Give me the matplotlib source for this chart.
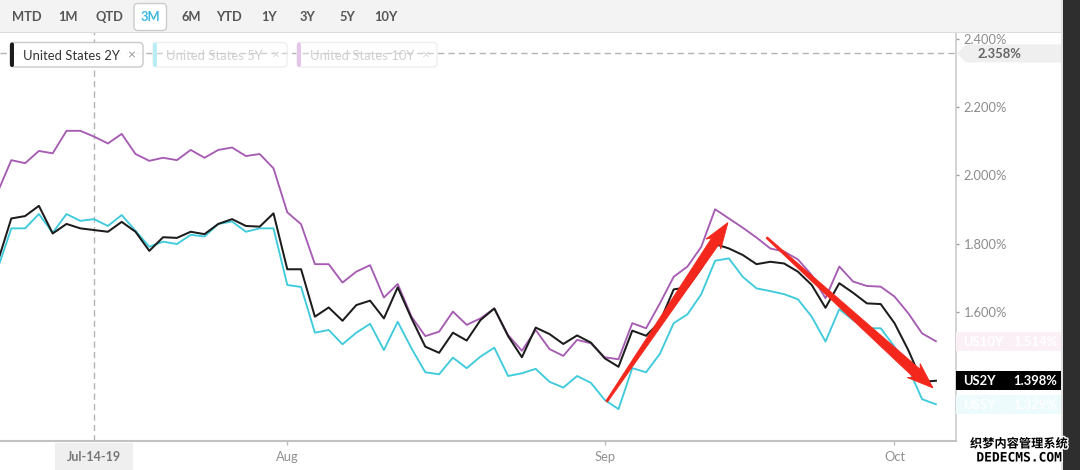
import matplotlib
matplotlib.use("Agg")
import matplotlib.pyplot as plt
import matplotlib.patheffects as pe
from matplotlib.patches import Rectangle, FancyBboxPatch, Polygon
from matplotlib.transforms import Affine2D, IdentityTransform
import numpy as np

plt.rcParams['font.family'] = ['Lato', 'DejaVu Sans']

# ---------------- data ----------------
us2y = [1.745, 1.874, 1.881, 1.911, 1.830, 1.858, 1.845, 1.840, 1.835, 1.864,
        1.835, 1.779, 1.819, 1.817, 1.835, 1.828, 1.858, 1.872, 1.852, 1.850,
        1.889, 1.725, 1.725, 1.586, 1.613, 1.574, 1.620, 1.633, 1.581, 1.672,
        1.581, 1.498, 1.480, 1.539, 1.516, 1.576, 1.610, 1.529, 1.467, 1.554,
        1.535, 1.506, 1.531, 1.510, 1.464, 1.439, 1.545, 1.530, 1.571, 1.666,
        1.672, 1.728, 1.799, 1.786, 1.767, 1.740, 1.747, 1.742, 1.718, 1.679,
        1.612, 1.684, 1.656, 1.625, 1.623, 1.567, 1.488, 1.395, 1.398]
us5y = [1.725, 1.845, 1.845, 1.887, 1.832, 1.887, 1.867, 1.872, 1.852, 1.884,
        1.838, 1.791, 1.806, 1.799, 1.826, 1.821, 1.858, 1.865, 1.835, 1.845,
        1.845, 1.679, 1.673, 1.539, 1.547, 1.505, 1.539, 1.565, 1.488, 1.571,
        1.493, 1.423, 1.417, 1.466, 1.435, 1.469, 1.495, 1.412, 1.420, 1.433,
        1.395, 1.378, 1.412, 1.392, 1.342, 1.315, 1.435, 1.423, 1.477, 1.567,
        1.593, 1.652, 1.750, 1.757, 1.703, 1.669, 1.661, 1.652, 1.637, 1.586,
        1.513, 1.608, 1.576, 1.552, 1.552, 1.498, 1.435, 1.344, 1.329]
us10y = [1.950, 2.045, 2.036, 2.072, 2.065, 2.131, 2.131, 2.114, 2.094, 2.122,
         2.063, 2.043, 2.052, 2.045, 2.075, 2.052, 2.075, 2.082, 2.057, 2.063,
         2.021, 1.892, 1.857, 1.740, 1.740, 1.686, 1.718, 1.737, 1.642, 1.682,
         1.586, 1.529, 1.542, 1.601, 1.562, 1.581, 1.610, 1.532, 1.486, 1.547,
         1.491, 1.471, 1.518, 1.508, 1.467, 1.461, 1.567, 1.552, 1.625, 1.703,
         1.733, 1.791, 1.901, 1.874, 1.847, 1.818, 1.786, 1.777, 1.754, 1.708,
         1.640, 1.733, 1.689, 1.676, 1.674, 1.645, 1.596, 1.537, 1.514]

series_names = ["United States 2Y", "United States 5Y", "United States 10Y"]
short_names = ["US2Y", "US5Y", "US10Y"]
last_values = [1.398, 1.329, 1.514]

x_tick_pos = [21, 44, 65]
x_tick_labels = ["Aug", "Sep", "Oct"]
y_ticks = [1.6, 1.8, 2.0, 2.2, 2.4]
y_tick_labels = ["1.600%", "1.800%", "2.000%", "2.200%", "2.400%"]

crosshair_idx = 7
crosshair_label = "Jul-14-19"
crosshair_value = 2.358

range_buttons = ["MTD", "1M", "QTD", "3M", "6M", "YTD", "1Y", "3Y", "5Y", "10Y"]
selected_range = "3M"

# hand-drawn annotation arrows: (x0, y0, x1, y1) in data units
arrow_up = (44.14, 1.337, 52.93, 1.862)
arrow_down = (55.74, 1.818, 67.79, 1.377)

watermark_cn = "织梦内容管理系统"
watermark_en = "DEDECMS.COM"

# ---------------- style ----------------
C2 = '#1c1c1c'
C5 = '#3fcbdb'
C10 = '#a65cb2'
RED = '#f4271c'

W, H = 1080, 470
fig = plt.figure(figsize=(W / 100, H / 100), dpi=100)
fig.patch.set_facecolor('white')
PX = Affine2D().scale(1, -1).translate(0, H)  # pixel coords from top-left

AX_L, AX_R, AX_T, AX_B = 0, 956, 32, 441
ax = fig.add_axes([AX_L / W, 1 - AX_B / H, (AX_R - AX_L) / W, (AX_B - AX_T) / H])
ax.set_facecolor('white')
xs = np.arange(len(us2y))
ax.set_xlim(0.181, 69.457)
ax.set_ylim(1.2214, 2.4208)

ax.plot(xs, us5y, color=C5, lw=1.35, zorder=3)
ax.plot(xs, us10y, color=C10, lw=1.35, zorder=3)
ax.plot(xs, us2y, color=C2, lw=1.45, zorder=4)

ax.axvline(crosshair_idx, color='#b3b3b3', lw=1, dashes=(4.5, 3), zorder=2)
ax.axhline(crosshair_value, color='#b3b3b3', lw=1, dashes=(4.5, 3), zorder=2)

for s in ['left', 'top']:
    ax.spines[s].set_visible(False)
ax.spines['right'].set_color('#c8c8c8')
ax.spines['right'].set_linewidth(1.1)
ax.spines['bottom'].set_color('#c2c2c2')
ax.spines['bottom'].set_linewidth(1.5)

ax.yaxis.tick_right()
ax.set_yticks(y_ticks)
ax.set_yticklabels(y_tick_labels)
ax.tick_params(axis='y', length=2.5, width=1, color='#9a9a9a', pad=3,
               labelsize=9.3, labelcolor='#8c8c8c')
ax.set_xticks(x_tick_pos)
ax.set_xticklabels(x_tick_labels)
ax.tick_params(axis='x', length=3, width=1, color='#bdbdbd', pad=4.5,
               labelsize=9.3, labelcolor='#909090')


def to_px(xv, yv):
    d = ax.transData.transform((xv, yv))
    return d[0], H - d[1]


def draw_arrow(spec, w0, w1, hw, hl):
    x0, y0, x1, y1 = spec
    T = np.array(ax.transData.transform((x0, y0)))
    P = np.array(ax.transData.transform((x1, y1)))
    d = P - T
    d = d / np.hypot(*d)
    n = np.array([-d[1], d[0]])
    B = P - d * hl
    pts = [T + n * w0, B + n * w1, B + n * hw - d * 4, P,
           B - n * hw - d * 4, B - n * w1, T - n * w0]
    ax.add_patch(Polygon(pts, closed=True, transform=IdentityTransform(),
                         fc=RED, ec=RED, lw=0.6, zorder=6))


draw_arrow(arrow_up, 1.0, 4.8, 9, 22)
draw_arrow(arrow_down, 0.9, 5.2, 9.5, 22)

# ---------------- top toolbar ----------------
fig.add_artist(Rectangle((0, 0), 1063, 32, transform=PX, fc='#f3f3f3', ec='none', zorder=10))
fig.add_artist(Rectangle((0, 32), 1063, 1.2, transform=PX, fc='#dcdcdc', ec='none', zorder=10))
btn_x = [26.7, 68.3, 109, 150, 191.7, 229, 269, 307, 347, 386]
for bx, lbl in zip(btn_x, range_buttons):
    col = '#555555'
    if lbl == selected_range:
        fig.add_artist(FancyBboxPatch((134, 3.5), 32.5, 27, transform=PX,
                                      boxstyle='round,pad=0,rounding_size=4',
                                      fc='white', ec='#cccccc', lw=1, zorder=11))
        col = '#3db8e2'
    fig.text(bx, 17, lbl, transform=PX, ha='center', va='center', fontsize=9.3,
             fontweight='bold', color=col, zorder=12)

# right dark panel
fig.add_artist(Rectangle((1061, 0), 2, H, transform=PX, fc='#e2e2e2', ec='none', zorder=10))
fig.add_artist(Rectangle((1063, 0), 17, H, transform=PX, fc='#2e2e2e', ec='none', zorder=10))

# ---------------- legend chips ----------------
chips = [(10, 143, C2, '#333333', '#999999', '#c9c9c9', 1.0),
         (153, 287, '#b8eef4', '#cfcfcf', '#d9d9d9', '#eeeeee', 0.0),
         (297, 437, '#e3c6e8', '#cfcfcf', '#d9d9d9', '#eeeeee', 0.0)]
for (cx0, cx1, barc, txtc, xc, edc, fa), name in zip(chips, series_names):
    fig.add_artist(FancyBboxPatch((cx0, 42.5), cx1 - cx0, 24.5, transform=PX,
                                  boxstyle='round,pad=0,rounding_size=4',
                                  fc=(1, 1, 1, 0.9 if fa else 0.35), ec=edc, lw=1, zorder=5))
    fig.add_artist(FancyBboxPatch((cx0, 42.5), 4, 24.5, transform=PX,
                                  boxstyle='round,pad=0,rounding_size=2',
                                  fc=barc, ec='none', zorder=6))
    fig.text(cx0 + 12.7, 55.5, name, transform=PX, ha='left', va='center',
             fontsize=9.4, color=txtc, zorder=7)
    fig.text(cx1 - 12, 55, '×', transform=PX, ha='center', va='center',
             fontsize=10, color=xc, zorder=7)

# ---------------- right tags ----------------
_, yc = to_px(0, crosshair_value)
fig.add_artist(Polygon([(957, yc), (966, yc - 9), (1061, yc - 9), (1061, yc + 9), (966, yc + 9)],
                       closed=True, transform=PX, fc='#efefef', ec='none', zorder=8))
fig.text(978, yc + 0.5, f"{crosshair_value:.3f}%", transform=PX, ha='left', va='center',
         fontsize=9.4, fontweight='bold', color='#666666', zorder=9)

tag_bg = {'US2Y': '#000000', 'US5Y': '#eefbfd', 'US10Y': '#fcf0f7'}
for nm, v in zip(short_names, last_values):
    _, yc = to_px(0, v)
    fig.add_artist(Rectangle((956, yc - 9.3), 105, 18.6, transform=PX,
                             fc=tag_bg[nm], ec='none', zorder=8))
    fig.text(963, yc + 0.5, nm, transform=PX, ha='left', va='center', fontsize=9.4,
             fontweight='bold', color='white', zorder=9)
    fig.text(1057, yc + 0.5, f"{v:.3f}%", transform=PX, ha='right', va='center',
             fontsize=9.4, fontweight='bold', color='white', zorder=9)

# ---------------- crosshair date label ----------------
cx, _ = to_px(crosshair_idx, 1.5)
fig.add_artist(Rectangle((cx - 39, 442.5), 78, 28, transform=PX, fc='#efefef', ec='none', zorder=8))
fig.text(cx, 457, crosshair_label, transform=PX, ha='center', va='center', fontsize=9,
         fontweight='bold', color='#777777', zorder=9)

# ---------------- watermark ----------------
stroke = [pe.withStroke(linewidth=2, foreground='white')]
fig.text(1019, 444, watermark_cn, transform=PX, ha='center', va='center', fontsize=8.8,
         fontweight='bold', family=['Noto Sans CJK SC', 'DejaVu Sans'], color='black',
         path_effects=stroke, zorder=12)
fig.text(1019, 458, watermark_en, transform=PX, ha='center', va='center', fontsize=9.3,
         fontweight='bold', family=['DejaVu Sans Mono', 'DejaVu Sans'], color='black',
         path_effects=stroke, zorder=12)

fig.savefig('out.png', dpi=100, facecolor='white')
